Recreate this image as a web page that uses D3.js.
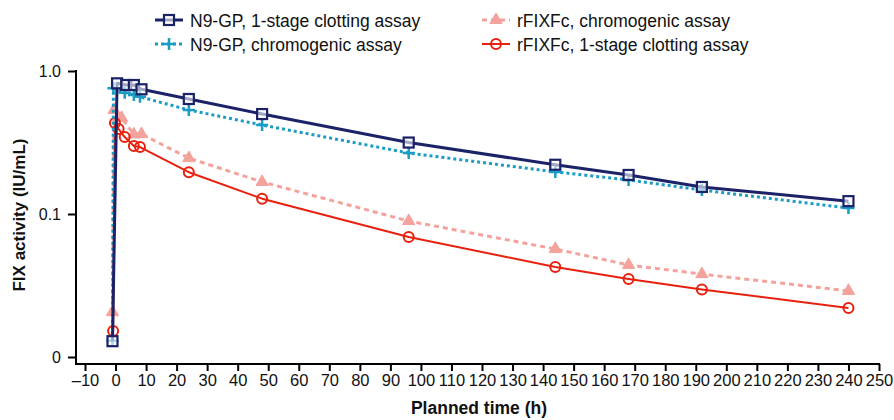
<!DOCTYPE html>
<html>
<head>
<meta charset="utf-8">
<script src="https://cdn.jsdelivr.net/npm/d3@7"></script>
<style>
  html, body { margin: 0; padding: 0; background: #fff; }
  svg { display: block; font-family: "Liberation Sans", Arial, sans-serif; }
</style>
</head>
<body>
<svg id="chart" width="894" height="420"></svg>
<script>
// ---- Data ----
const seriesNames = [
  "N9-GP, 1-stage clotting assay",
  "N9-GP, chromogenic assay",
  "rFIXFc, chromogenic assay",
  "rFIXFc, 1-stage clotting assay"
];
const lateTimes = [24, 48, 96, 144, 168, 192, 240];

const n9ClotTimes  = [-1, 0.5, 3.5, 6, 8.5].concat(lateTimes);
const n9ClotValues = [0.0129, 0.82, 0.798, 0.798, 0.745, 0.637, 0.50, 0.316, 0.221, 0.1875, 0.1545, 0.123];

const n9ChromTimes  = [-1, -0.7, 3, 6, 8].concat(lateTimes);
const n9ChromValues = [0.013, 0.757, 0.705, 0.68, 0.66, 0.534, 0.419, 0.267, 0.197, 0.173, 0.147, 0.110];

const fcChromTimes  = [-1, -0.5, 2, 6, 8.5].concat(lateTimes);
const fcChromValues = [0.0206, 0.534, 0.47, 0.36, 0.362, 0.246, 0.1675, 0.0893, 0.0569, 0.044, 0.038, 0.029];

const fcClotTimes  = [-0.8, -0.2, 1, 3, 6, 8].concat(lateTimes);
const fcClotValues = [0.0152, 0.433, 0.393, 0.345, 0.299, 0.294, 0.196, 0.128, 0.069, 0.0426, 0.0351, 0.0297, 0.022];

const xTickValues = d3.range(-10, 251, 10);
const yTickValues = [0.01, 0.1, 1];
const yTickLabels = ["0", "0.1", "1.0"];

// ---- Layout ----
const svg = d3.select("#chart");
const axisLeftX = 76, axisBottomY = 364;
const x = d3.scaleLinear().domain([-10, 250]).range([85, 879]);
const y = d3.scaleLog().domain([0.01, 1]).range([357, 71]);

const styles = [
  {color: "#1b2268", width: 3,   dash: null,  marker: "square"},
  {color: "#1a9cc4", width: 3,   dash: "3,3", marker: "plus"},
  {color: "#f4a29c", width: 3,   dash: "5,4", marker: "triangle"},
  {color: "#e8210f", width: 2,   dash: null,  marker: "circle"}
];
const series = [
  {t: n9ClotTimes,  v: n9ClotValues},
  {t: n9ChromTimes, v: n9ChromValues},
  {t: fcChromTimes, v: fcChromValues},
  {t: fcClotTimes,  v: fcClotValues}
];

// ---- Axes ----
const xAxis = d3.axisBottom(x).tickValues(xTickValues).tickSize(7).tickSizeOuter(0)
  .tickFormat(d => d < 0 ? "\u2013" + Math.abs(d) : String(d));
const gx = svg.append("g").attr("transform", `translate(0,${axisBottomY})`).call(xAxis);
gx.select(".domain").remove();
gx.append("line").attr("x1", axisLeftX - 1).attr("x2", x(250) + 1)
  .attr("stroke", "#000").attr("stroke-width", 2);
gx.selectAll(".tick line").attr("stroke-width", 2);
gx.selectAll(".tick text").attr("font-size", 16.5).attr("fill", "#111")
  .attr("y", 10).attr("font-family", "Liberation Sans, Arial, sans-serif");

const yAxis = d3.axisLeft(y).tickValues(yTickValues).tickSize(8).tickSizeOuter(0)
  .tickFormat((d, i) => yTickLabels[i]);
const gy = svg.append("g").attr("transform", `translate(${axisLeftX},0)`).call(yAxis);
gy.select(".domain").remove();
gy.append("line").attr("y1", y(1) - 1).attr("y2", axisBottomY)
  .attr("stroke", "#000").attr("stroke-width", 2);
gy.selectAll(".tick line").attr("stroke-width", 2);
gy.selectAll(".tick text").attr("font-size", 16).attr("fill", "#111")
  .attr("x", -15).attr("font-family", "Liberation Sans, Arial, sans-serif");

// Axis titles
svg.append("text").attr("x", 479).attr("y", 414).attr("text-anchor", "middle")
  .attr("font-size", 17.5).attr("font-weight", "bold").attr("fill", "#111")
  .text("Planned time (h)");
svg.append("text").attr("transform", "translate(25,215) rotate(-90)")
  .attr("text-anchor", "middle").attr("font-size", 17).attr("font-weight", "bold").attr("fill", "#111")
  .text("FIX activity (IU/mL)");

// ---- Markers ----
function drawMarker(g, type, cx, cy, color) {
  if (type === "square") {
    g.append("rect").attr("x", cx - 5).attr("y", cy - 5).attr("width", 10).attr("height", 10)
      .attr("fill", "#fff").attr("fill-opacity", 0.6).attr("stroke", color).attr("stroke-width", 2.2);
  } else if (type === "plus") {
    g.append("path").attr("d", `M${cx-6},${cy}H${cx+6}M${cx},${cy-6}V${cy+6}`)
      .attr("stroke", color).attr("stroke-width", 2.5).attr("fill", "none");
  } else if (type === "triangle") {
    g.append("path").attr("d", d3.symbol().type(d3.symbolTriangle).size(65)())
      .attr("transform", `translate(${cx},${cy})`)
      .attr("fill", color).attr("stroke", color).attr("stroke-width", 1);
  } else if (type === "circle") {
    g.append("circle").attr("cx", cx).attr("cy", cy).attr("r", 5)
      .attr("fill", "none").attr("stroke", color).attr("stroke-width", 2);
  }
}

// ---- Lines ----
const drawOrder = [2, 3, 1, 0];
const line = d3.line().x(d => x(d[0])).y(d => y(d[1]));
drawOrder.forEach(i => {
  const s = series[i], st = styles[i];
  const pts = s.t.map((t, k) => [t, s.v[k]]);
  const g = svg.append("g");
  g.append("path").datum(pts).attr("d", line).attr("fill", "none")
    .attr("stroke", st.color).attr("stroke-width", st.width)
    .attr("stroke-dasharray", st.dash).attr("stroke-linejoin", "round");
  pts.forEach(p => drawMarker(g, st.marker, x(p[0]), y(p[1]), st.color));
});

// ---- Legend ----
const legendPos = [[155, 20], [155, 44], [482, 20], [482, 44]];
seriesNames.forEach((name, i) => {
  const st = styles[i];
  const [lx, ly] = legendPos[i];
  const g = svg.append("g");
  g.append("line").attr("x1", lx).attr("x2", lx + 28).attr("y1", ly).attr("y2", ly)
    .attr("stroke", st.color).attr("stroke-width", st.width).attr("stroke-dasharray", st.dash);
  drawMarker(g, st.marker, lx + 14, ly, st.color);
  g.append("text").attr("x", lx + 35).attr("y", ly + 6.5).attr("font-size", 17.5).attr("fill", "#111")
    .text(name);
});
</script>
</body>
</html>
